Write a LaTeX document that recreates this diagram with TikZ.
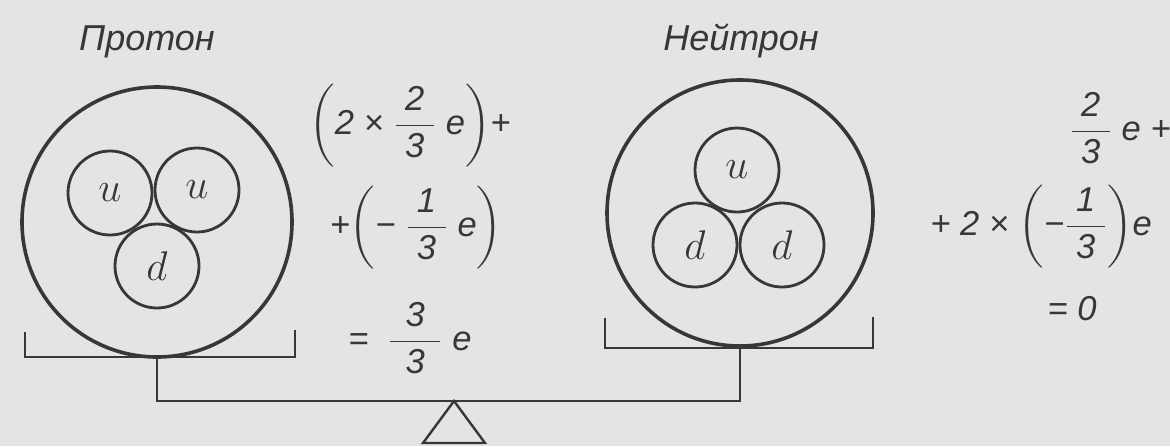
\documentclass[tikz,border=0pt]{standalone}
\usepackage{amsmath}
\usepackage{fontspec}
\setmainfont{Liberation Sans}
\usepackage{tikz}
\usetikzlibrary{positioning, calc}

\definecolor{paper}{RGB}{228,228,228}
\definecolor{ink}{RGB}{55,55,55}

% fraction with a wide bar, digits in the text font
\newcommand{\fr}[3][1.1em]{\dfrac{\makebox[#1]{#2}}{\makebox[#1]{#3}}}

\begin{document}
\begin{tikzpicture}[
        x=0.5pt, y=-0.5pt,
        nucleon/.style={circle, draw=ink, line width=1.8pt, minimum size=#1, inner sep=0pt},
        quark/.style={circle, draw=ink, line width=1.4pt, minimum size=42pt, inner sep=0pt, font=\huge, text=ink},
        pan/.style={draw=ink, line width=1.2pt},
        heading/.style={font=\fontsize{18}{21}\selectfont\itshape, text=ink, anchor=base},
        eq/.style={font=\LARGE\itshape, text=ink, anchor=base},
    ]
        \fill[paper] (0,0) rectangle (1170,446);
        \useasboundingbox (0,0) rectangle (1170,446);

        % proton
        \node[heading] (ptitle) at (147,50) {Протон};
        \node[nucleon=135pt] (proton) at (157,222) {};
        \node[quark] (pu1) at (110,193) {$u$};
        \node[quark] (pu2) at (197,190) {$u$};
        \node[quark] (pd) at (157,266) {$d$};

        % neutron
        \node[heading] (ntitle) at (741,50) {Нейтрон};
        \node[nucleon=133pt] (neutron) at (740,213) {};
        \node[quark] (nu) at (737,170) {$u$};
        \node[quark] (nd1) at (695,245) {$d$};
        \node[quark] (nd2) at (782,245) {$d$};

        % charges
        \node[eq] (p1) at (410,134) {$\left(\text{2 × }\fr{2}{3}\text{ e}\right)$+};
        \node[eq] (p2) at (416,236) {+$\left(\text{− }\fr{1}{3}\text{ e}\right)$};
        \node[eq] (p3) at (410,350) {=\ \ $\fr[1.45em]{3}{3}$\ e};
        \node[eq] (n1) at (1120,140) {$\fr{2}{3}$ e +};
        \node[eq] (n2) at (1041,235) {+ 2 × $\left(\text{−}\fr{1}{3}\right)$e};
        \node[eq] (n3) at (1072,320) {= 0};

        % balance
        \draw[pan] (25,332) |- (295,357) -- (295,330);
        \draw[pan] (605,318) |- (873,348) -- (873,317);
        \draw[pan] (proton.south) -- ++(0,42) -| (neutron.south);
        \draw[pan] (454,401) -- (485,443) -- (423,443) -- cycle;
    \end{tikzpicture}
\end{document}
